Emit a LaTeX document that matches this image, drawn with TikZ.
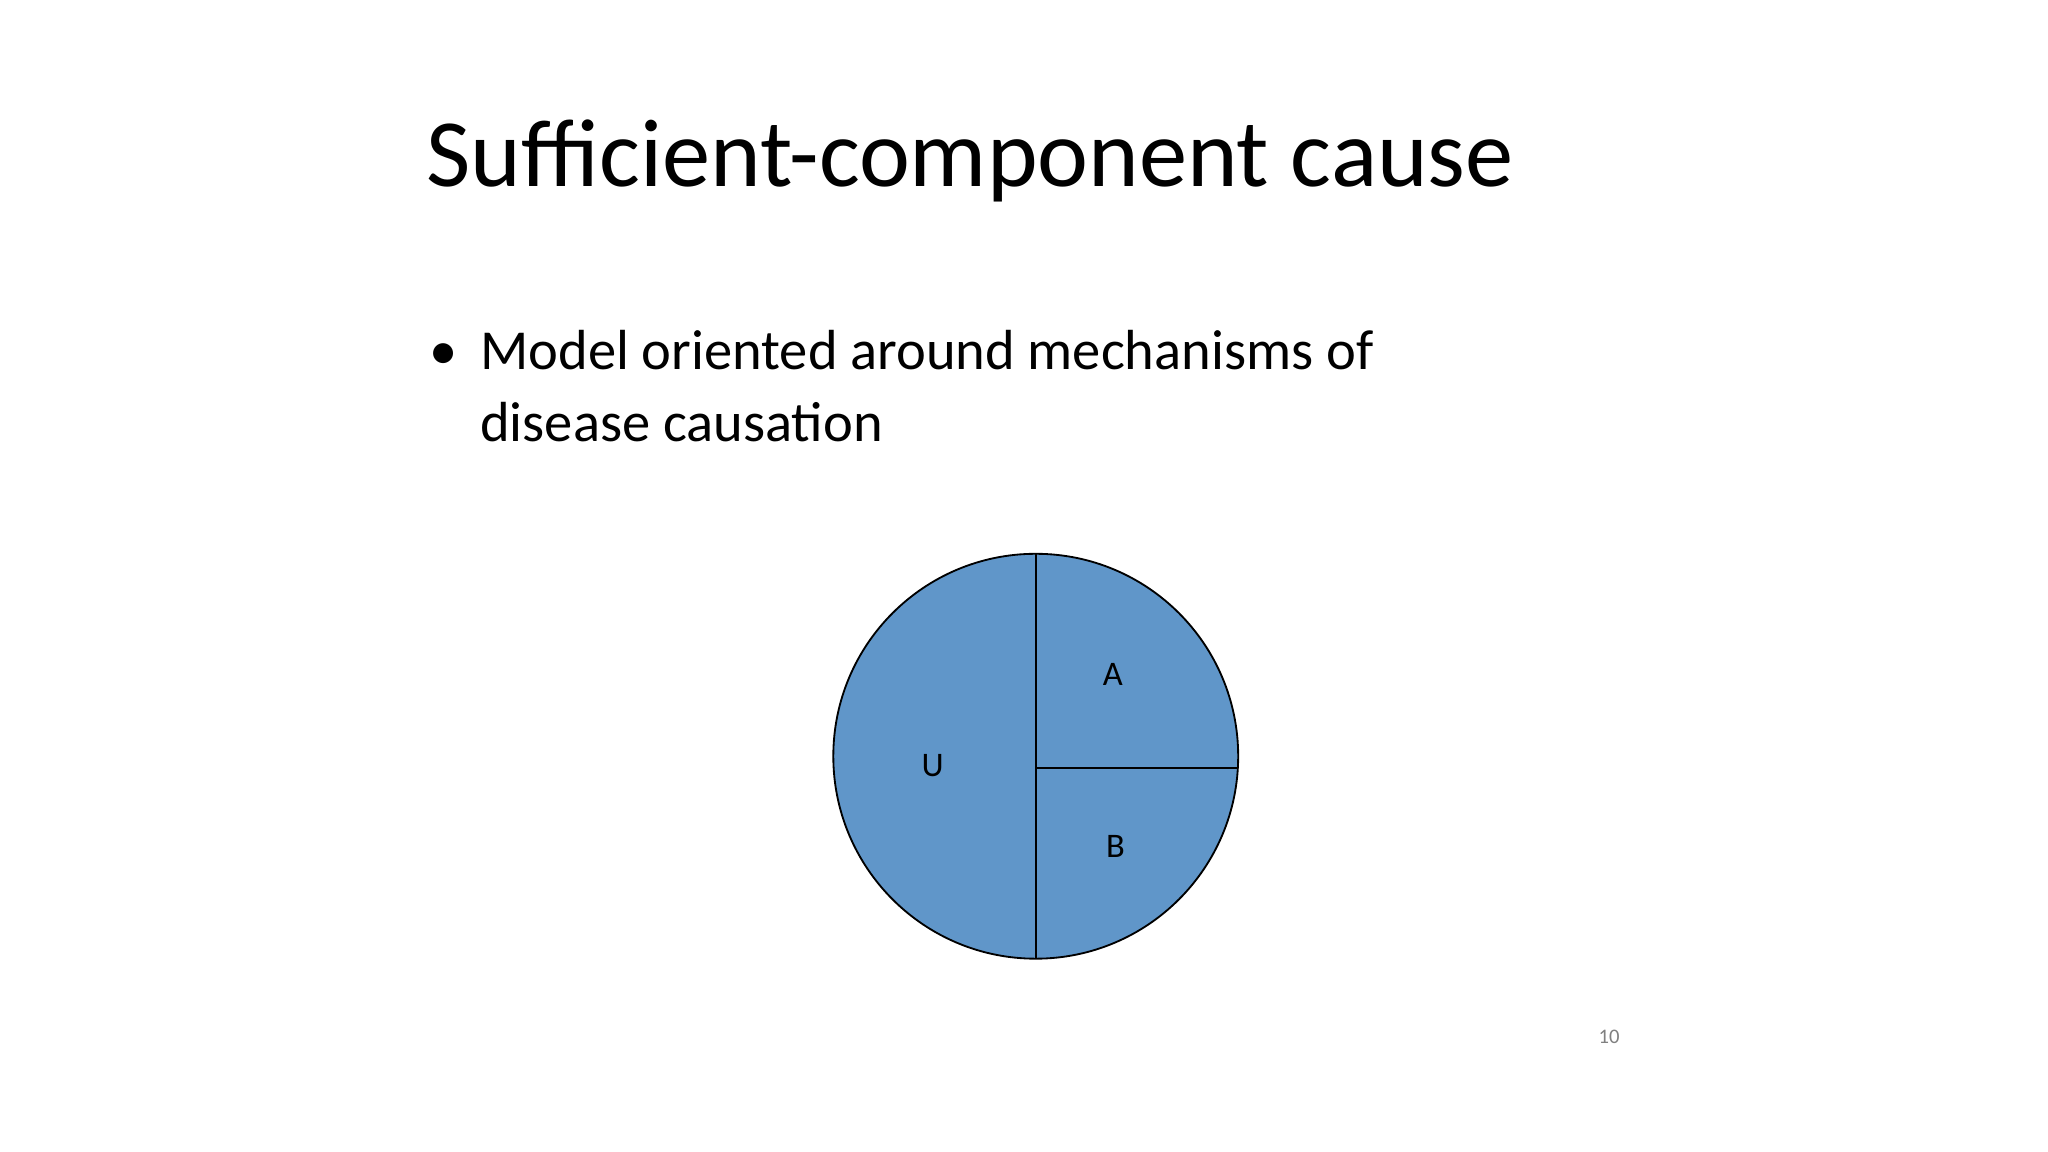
\documentclass[tikz,border=0pt]{standalone}
\usepackage{fontspec}
\setmainfont{Carlito}
\definecolor{pie}{HTML}{6096C9}
\begin{document}
\begin{tikzpicture}[x=0.01cm,y=-0.01cm,
  lab/.style={font=\fontsize{7.5pt}{9pt}\selectfont,inner sep=0pt}]
\useasboundingbox[fill=white] (0,0) rectangle (1568,882);
\node[anchor=base west,inner sep=0pt,font=\fontsize{21pt}{25pt}\selectfont] (title) at (326,143) {Sufficient-component cause};
\node[anchor=base west,inner sep=0pt,font=\fontsize{12.3pt}{15pt}\selectfont] (bul) at (328,283) {•};
\node[anchor=base west,inner sep=0pt,font=\fontsize{12.3pt}{15pt}\selectfont] (l1) at (367,283) {Model oriented around mechanisms of};
\node[anchor=base west,inner sep=0pt,font=\fontsize{12.3pt}{15pt}\selectfont] (l2) at (367,338) {disease causation};
\coordinate (c) at (793,579);
\fill[pie] (c) circle (155);
\draw[line width=0.4pt] (c) circle (155);
\coordinate (top) at (793,424);
\coordinate (bot) at (793,734);
\coordinate (hl) at (793,588);
\coordinate (hr) at (947.7,588);
\draw[line width=0.4pt] (top) -- (bot);
\draw[line width=0.4pt] (hl) -- (hr);
\node[lab] (A) at (852,516) {A};
\node[lab] (U) at (714,586) {U};
\node[lab] (B) at (854,648) {B};
\node[inner sep=0pt,text=gray,font=\fontsize{4.5pt}{5pt}\selectfont] (n) at (1232,794) {10};
\end{tikzpicture}
\end{document}
